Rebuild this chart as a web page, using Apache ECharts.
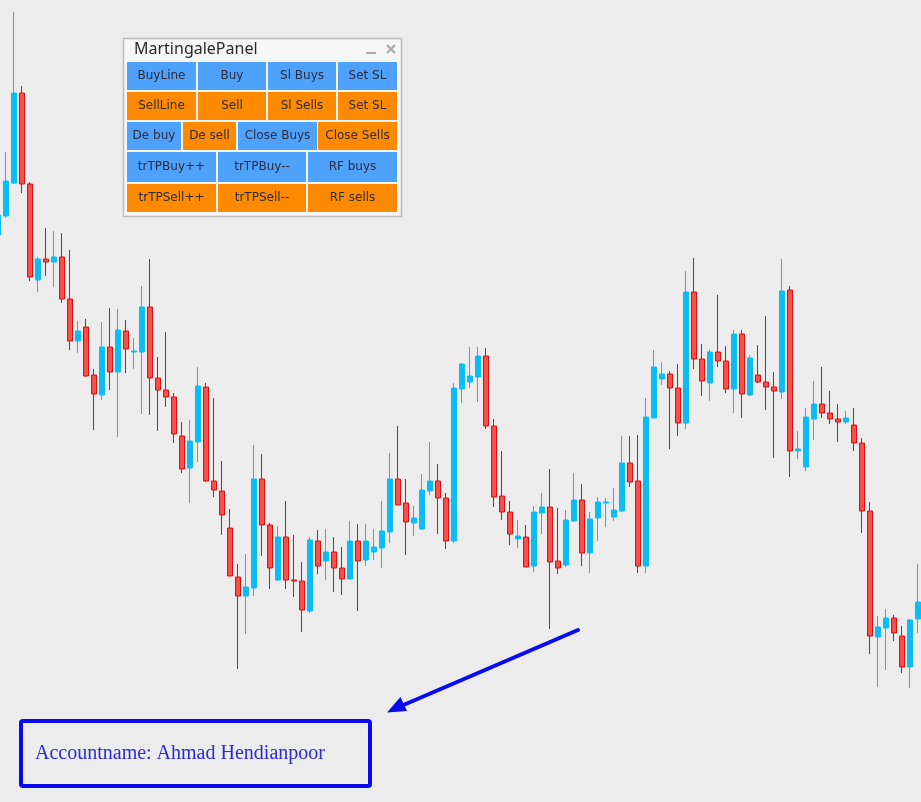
<!DOCTYPE html>
<html>
<head>
<meta charset="utf-8">
<script src="https://cdn.jsdelivr.net/npm/echarts@6/dist/echarts.min.js"></script>
<style>
html,body{margin:0;padding:0;background:#ececec;overflow:hidden;width:921px;height:802px;position:relative;}
#chart{position:absolute;left:-6px;top:0;width:928px;height:802px;}
</style>
</head>
<body>
<div id="chart"></div>
<script>
// Price points (arbitrary index units)
const bars = [];
for (let i = -1; i <= 114; i++) bars.push(String(i));
const opens  = [765,784,817,907,816,720,741,738,743,701,659,673,625,605,653,628,669,648,648,693,622,610,603,564,532,558,613,519,509,472,423,404,412,521,475,420,463,420,419,389,459,439,448,432,421,459,440,448,452,468,521,497,477,471,509,519,502,459,611,618,623,644,574,504,488,461,463,434,487,493,439,435,479,500,447,482,497,483,489,537,519,434,582,621,626,612,577,708,641,617,648,639,611,666,605,625,618,613,608,710,549,533,581,596,587,581,578,575,557,489,363,372,382,364,333,381];
const closes = [785,819,907,816,723,741,738,743,701,659,669,624,606,653,628,670,651,649,693,622,610,603,566,531,559,614,519,510,485,424,404,413,521,475,432,463,420,419,390,460,434,448,432,421,459,439,459,453,469,521,495,478,482,510,519,502,459,612,636,624,644,574,503,488,466,464,433,488,493,438,432,480,500,447,481,498,498,490,537,518,434,583,633,626,612,577,708,641,619,648,639,611,666,606,642,618,613,609,709,549,551,583,596,587,581,578,582,557,489,364,373,382,367,333,380,398];
const lows   = [763,782,816,807,719,708,724,713,697,650,647,623,570,600,610,563,627,631,586,585,569,593,557,527,497,538,518,503,465,424,331,366,404,444,411,419,411,403,368,387,426,420,408,405,421,389,434,440,432,457,495,445,464,470,505,466,451,457,597,612,598,571,493,480,455,452,433,428,466,371,426,433,478,434,427,459,473,479,488,513,427,427,582,615,551,564,571,631,604,599,633,607,587,582,604,617,590,542,601,523,541,529,560,582,576,558,576,549,467,346,313,330,359,327,312,367];
const highs  = [795,848,988,914,818,743,772,769,767,750,679,681,631,678,692,691,680,662,714,741,643,668,607,578,580,633,617,602,539,491,436,446,555,546,477,474,499,465,438,463,470,471,463,453,479,476,476,471,499,547,574,521,494,526,558,536,507,617,637,653,653,652,581,549,499,480,475,494,507,531,492,490,527,516,488,503,502,512,564,564,565,602,650,638,629,636,729,742,656,651,705,654,670,670,645,655,684,628,741,714,569,592,619,633,609,596,589,592,562,498,384,391,385,374,381,436];

const candleData = opens.map((o, i) => [o, closes[i], lows[i], highs[i]]);

// Panel button labels and colour kinds
const panelRows = [
  [["BuyLine","b"],["Buy","b"],["Sl Buys","b"],["Set SL","b"]],
  [["SellLine","o"],["Sell","o"],["Sl Sells","o"],["Set SL","o"]],
  [["De buy","b"],["De sell","o"],["Close Buys","b"],["Close Sells","o"]],
  [["trTPBuy++","b"],["trTPBuy--","b"],["RF buys","b"]],
  [["trTPSell++","o"],["trTPSell--","o"],["RF sells","o"]]
];
const rowY = [[62,90],[92,120],[122,150],[152,182],[184,212]];
const colX = [
  [[127,196],[198,266],[268,336],[338,397]],
  [[127,196],[198,266],[268,336],[338,397]],
  [[127,181],[183,236],[238,317],[318,397]],
  [[127,216],[218,306],[308,397]],
  [[127,216],[218,306],[308,397]]
];
const BLUE_BTN = '#4ea2fb', ORANGE_BTN = '#ff8a00';

const items = [];
items.push({type:'rect', shape:{x:123.5,y:38.5,width:278,height:178}, style:{fill:'#f6f6f6', stroke:'#bdbdbd', lineWidth:1.5}, z:100});
items.push({type:'text', x:134, y:49, style:{text:'MartingalePanel', fill:'#2a2a2a', font:'16px "Noto Sans"', textVerticalAlign:'middle'}, z:101});
items.push({type:'line', shape:{x1:366,y1:53,x2:376,y2:53}, style:{stroke:'#aaaaaa', lineWidth:2}, z:101});
items.push({type:'line', shape:{x1:387,y1:45,x2:395,y2:53}, style:{stroke:'#aaaaaa', lineWidth:2.2}, z:101});
items.push({type:'line', shape:{x1:395,y1:45,x2:387,y2:53}, style:{stroke:'#aaaaaa', lineWidth:2.2}, z:101});
panelRows.forEach((row, r) => {
  row.forEach((btn, c) => {
    const [x0, x1] = colX[r][c];
    const [y0, y1] = rowY[r];
    items.push({type:'rect', shape:{x:x0,y:y0,width:x1-x0,height:y1-y0},
      style:{fill: btn[1]==='b' ? BLUE_BTN : ORANGE_BTN}, z:101});
    items.push({type:'text', x:(x0+x1)/2, y:(y0+y1)/2,
      style:{text:btn[0], fill:'#2c2c3c', font:'12px "DejaVu Sans"', textAlign:'center', textVerticalAlign:'middle'}, z:102});
  });
});
// Arrow
items.push({type:'line', shape:{x1:578,y1:630,x2:400,y2:706.5}, style:{stroke:'#0a0af0', lineWidth:4, lineCap:'round'}, z:100});
items.push({type:'polygon', shape:{points:[[387,712.5],[407,711],[400.5,697]]}, style:{fill:'#0a0af0'}, z:100});
// Account box
items.push({type:'rect', shape:{x:21,y:721,width:349,height:65, r:2}, style:{fill:'none', stroke:'#0a0af0', lineWidth:4}, z:100});
items.push({type:'text', x:35, y:754, style:{text:'Accountname: Ahmad Hendianpoor', fill:'#2a2ad8', font:'20px "Liberation Serif"', textVerticalAlign:'middle'}, z:101});

const chart = echarts.init(document.getElementById('chart'), null, {renderer:'canvas'});
chart.setOption({
  backgroundColor:'#ececec',
  animation:false,
  grid:{left:0, right:0, top:0, bottom:0, containLabel:false},
  xAxis:{type:'category', data:bars, boundaryGap:true, show:false},
  yAxis:{type:'value', min:198, max:1000, show:false, splitLine:{show:false}},
  series:[{
    type:'candlestick',
    data:candleData,
    barWidth:5,
    itemStyle:{
      color:'#0bbcf6', borderColor:'#0bbcf6',
      color0:'#f4504c', borderColor0:'#e00d0d',
      borderWidth:1
    }
  }],
  graphic:[{type:'group', x:6, y:0, children:items}]
});
</script>
</body>
</html>
